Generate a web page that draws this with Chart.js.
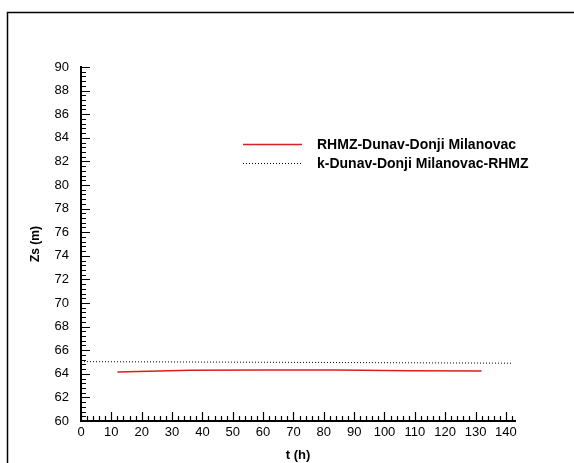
<!DOCTYPE html>
<html>
<head>
<meta charset="utf-8">
<style>
  html, body { margin: 0; padding: 0; background: #fff; }
  #wrap { width: 574px; height: 463px; }
</style>
</head>
<body>
<div id="wrap">
  <canvas id="zsChart" width="574" height="463"></canvas>
</div>

<script src="https://cdn.jsdelivr.net/npm/chart.js"></script>

<script>
    // measured series
    const rhmzT = [12, 36, 60, 84, 108, 132];
    const rhmzZs = [64.15, 64.3, 64.32, 64.32, 64.25, 64.24];

    const modelT = [0, 70, 142];
    const modelZs = [65.03, 64.97, 64.9];

    const seriesNames = ['RHMZ-Dunav-Donji Milanovac', 'k-Dunav-Donji Milanovac-RHMZ'];

    // axis ticks
    const xTickLabels = [0, 10, 20, 30, 40, 50, 60, 70, 80, 90, 100, 110, 120, 130, 140];
    const yTickLabels = [60, 62, 64, 66, 68, 70, 72, 74, 76, 78, 80, 82, 84, 86, 88, 90];

    const toPoints = (xs, ys) => xs.map((x, i) => ({ x: x, y: ys[i] }));
    const FONT = '"Liberation Sans", Arial, sans-serif';

    // outer frame, inward ticks and the legend
    const decorPlugin = {
        id: 'decor',
        beforeDraw(chart) {
            const ctx = chart.ctx;
            ctx.save();
            ctx.strokeStyle = '#000';
            ctx.lineWidth = 1.5;
            ctx.strokeRect(7.5, 12.5, 700, 600);
            ctx.restore();
        },
        afterDraw(chart) {
            const ctx = chart.ctx;
            const xs = chart.scales.x;
            const ys = chart.scales.y;
            const area = chart.chartArea;
            ctx.save();
            ctx.strokeStyle = '#000';
            ctx.lineWidth = 1.2;
            ctx.beginPath();
            for (let v = 0; v <= xs.max; v += 2) {
                const px = Math.round(xs.getPixelForValue(v)) + 0.5;
                const len = v % 10 === 0 ? 9 : 5;
                ctx.moveTo(px, area.bottom);
                ctx.lineTo(px, area.bottom - len);
            }
            for (let i = 0; i <= 75; i++) {
                const v = 60 + i * 0.4;
                const py = Math.round(ys.getPixelForValue(v)) + 0.5;
                const len = i % 5 === 0 ? 9 : 5;
                ctx.moveTo(area.left, py);
                ctx.lineTo(area.left + len, py);
            }
            ctx.stroke();

            // legend
            const lx0 = 243, lx1 = 302, tx = 317;
            const rows = [144, 163];
            ctx.font = 'bold 14px ' + FONT;
            ctx.textBaseline = 'middle';
            ctx.fillStyle = '#000';
            chart.data.datasets.forEach((ds, i) => {
                ctx.beginPath();
                ctx.strokeStyle = ds.borderColor;
                ctx.lineWidth = ds.borderWidth;
                ctx.setLineDash(ds.borderDash || []);
                ctx.moveTo(lx0, rows[i] + 0.5);
                ctx.lineTo(lx1, rows[i] + 0.5);
                ctx.stroke();
                ctx.setLineDash([]);
                ctx.fillText(ds.label, tx, rows[i] + 1);
            });
            ctx.restore();
        }
    };

    const ctx = document.getElementById('zsChart').getContext('2d');
    const zsChart = new Chart(ctx, {
        type: 'line',
        data: {
            datasets: [
                {
                    label: seriesNames[0],
                    data: toPoints(rhmzT, rhmzZs),
                    borderColor: 'rgb(220, 30, 30)',
                    borderWidth: 1.5,
                    pointRadius: 0,
                    fill: false,
                    tension: 0,
                },
                {
                    label: seriesNames[1],
                    data: toPoints(modelT, modelZs),
                    borderColor: '#000',
                    borderWidth: 1,
                    borderDash: [1, 2],
                    pointRadius: 0,
                    fill: false,
                    tension: 0,
                },
            ],
        },
        options: {
            responsive: false,
            animation: false,
            events: [],
            layout: { padding: { top: 67, right: 59, bottom: 0, left: 0 } },
            plugins: {
                legend: { display: false },
                tooltip: { enabled: false },
            },
            scales: {
                x: {
                    type: 'linear',
                    min: 0,
                    max: 143,
                    afterBuildTicks: scale => { scale.ticks = xTickLabels.map(v => ({ value: v })); },
                    afterFit: scale => { scale.height = 42; },
                    grid: { display: false, drawTicks: false },
                    border: { display: true, color: '#000', width: 2 },
                    ticks: {
                        padding: 4,
                        color: '#000',
                        maxRotation: 0,
                        autoSkip: false,
                        font: { family: FONT, size: 13 },
                    },
                    title: {
                        display: true,
                        text: 't (h)',
                        color: '#000',
                        padding: { top: 0, bottom: 0 },
                        font: { family: FONT, size: 13, weight: 'bold' },
                    },
                },
                y: {
                    type: 'linear',
                    min: 60,
                    max: 90,
                    afterBuildTicks: scale => { scale.ticks = yTickLabels.map(v => ({ value: v })); },
                    afterFit: scale => { scale.width = 81; },
                    grid: { display: false, drawTicks: false },
                    border: { display: true, color: '#000', width: 2 },
                    ticks: {
                        padding: 12,
                        color: '#000',
                        autoSkip: false,
                        font: { family: FONT, size: 13 },
                    },
                    title: {
                        display: true,
                        text: 'Zs (m)',
                        color: '#000',
                        padding: { top: 28, bottom: 0 },
                        font: { family: FONT, size: 12, weight: 'bold' },
                    },
                },
            },
        },
        plugins: [decorPlugin],
    });
</script>
</body>
</html>
